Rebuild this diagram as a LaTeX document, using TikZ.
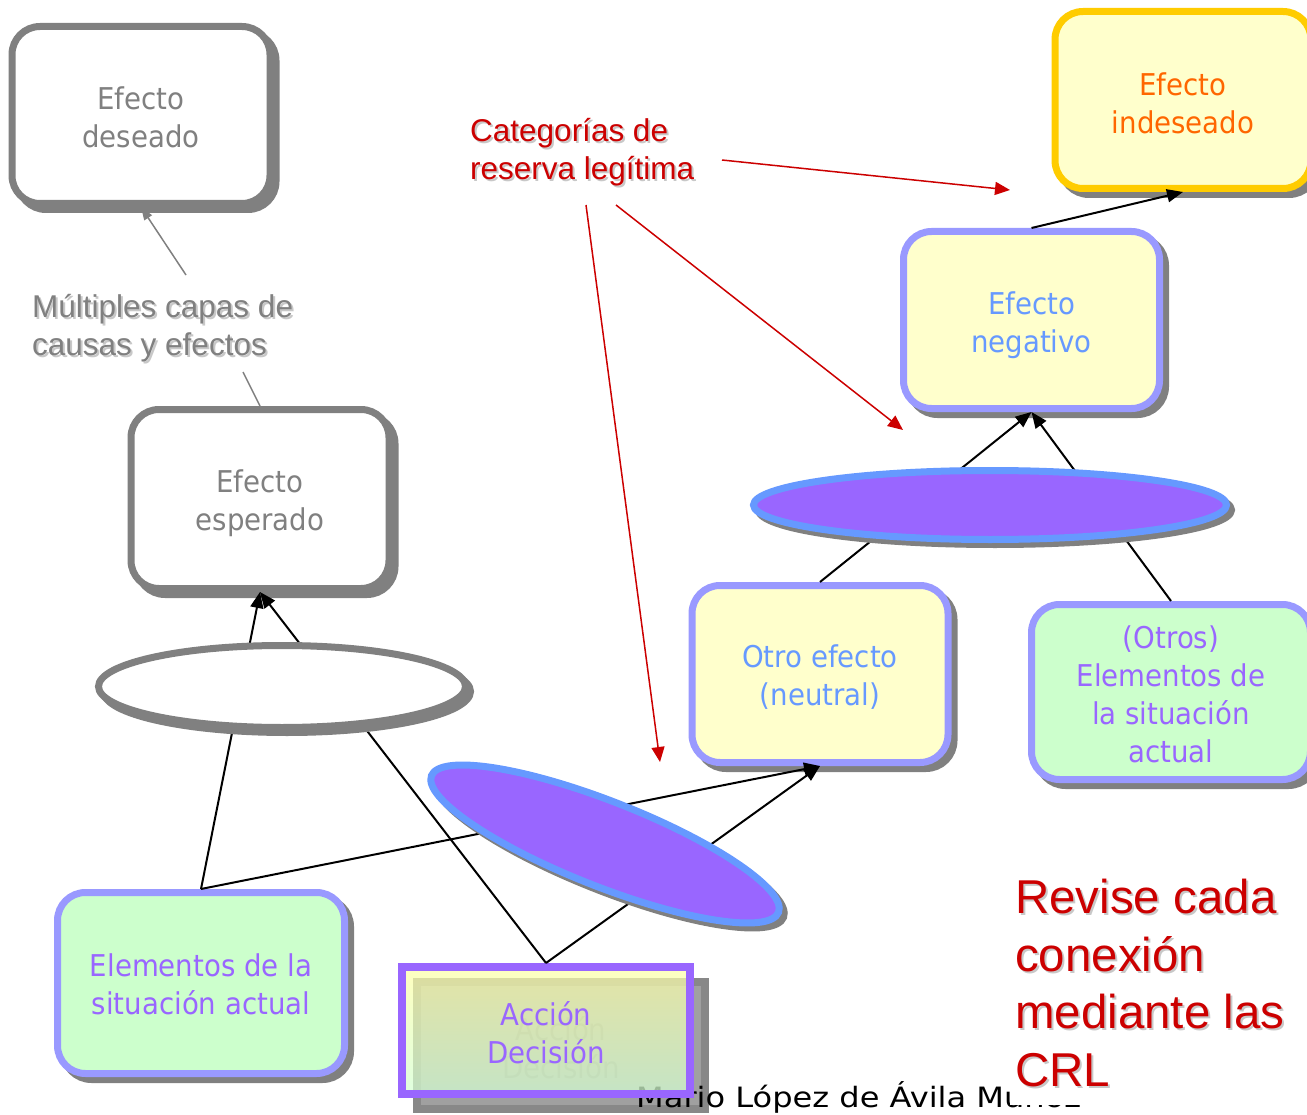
\documentclass[tikz,border=0pt]{standalone}
\usepackage{fontspec}
\setmainfont{DejaVu Sans}[FakeStretch=0.92]
\newfontfamily\footfont{DejaVu Sans}[FakeStretch=1.145]
\newfontfamily\arialfont{Liberation Sans}
\usetikzlibrary{arrows.meta,shapes.geometric}

\definecolor{shgray}{HTML}{808080}
\definecolor{txtgray}{HTML}{808080}
\definecolor{boxyellow}{HTML}{FFFFCC}
\definecolor{boxgreen}{HTML}{CCFFCC}
\definecolor{lilac}{HTML}{9999FF}
\definecolor{skyblue}{HTML}{6699FF}
\definecolor{violet}{HTML}{9966FF}
\definecolor{gold}{HTML}{FFCC00}
\definecolor{orangetxt}{HTML}{FF6600}
\definecolor{crlred}{HTML}{CC0000}
\definecolor{softshadow}{HTML}{C8C8C8}
\definecolor{accshfill}{HTML}{A0A0A0}
\definecolor{accshline}{HTML}{888888}
\definecolor{accshtext}{HTML}{8C8C8C}
\definecolor{acctop}{HTML}{FFFFA8}
\definecolor{accbottom}{HTML}{D4FFD4}

% text with a soft drop shadow
\newcommand\shtxt[2][softshadow]{\leavevmode\rlap{\kern2pt\raisebox{-2pt}{\color{#1}#2}}#2}
% invisible strut that sets the height of a first text line
\newcommand\topgap[1]{\rule{0pt}{#1}}

\tikzset{
  shadowed/.style={preaction={draw=shgray,fill=shgray,
      transform canvas={xshift=#1,yshift=-#1}}},
  shadowed/.default=6pt,
  box/.style={rectangle, rounded corners=28pt, line width=7pt,
    minimum width=256pt, minimum height=177pt, inner sep=0pt,
    align=center, font=\fontsize{30}{38}\selectfont, shadowed},
  graybox/.style={box, draw=shgray, fill=white, text=txtgray},
  yelbox/.style={box, draw=lilac, fill=boxyellow, text=skyblue},
  grnbox/.style={box, draw=lilac, fill=boxgreen, text=violet},
  actbox/.style={rectangle, line width=8pt, minimum width=288pt,
    minimum height=127pt, inner sep=0pt, align=center,
    font=\fontsize{30}{38}\selectfont},
  andnode/.style={ellipse, line width=7pt, inner sep=0pt},
  link/.style={draw=black, line width=2pt},
  linkarrow/.style={link, -{Triangle[length=16pt,width=13pt]}},
  redarrow/.style={draw=crlred, line width=1.5pt,
    -{Triangle[length=15pt,width=13pt]}},
  grayline/.style={draw=txtgray, line width=1.5pt},
  grayarrow/.style={grayline, -{Triangle[length=13pt,width=9pt]}},
}

\begin{document}
\begin{tikzpicture}[x=1pt,y=-1pt]
\useasboundingbox (0,0) rectangle (1307,1115);
\fill[white] (0,0) rectangle (1307,1115);

% effect boxes
\node[graybox, minimum width=258pt] (des) at (141,115) {\topgap{26.8pt}Efecto\\deseado};
\node[graybox, minimum width=258pt, minimum height=179pt] (esp) at (260,499)
  {\topgap{30.8pt}Efecto\\esperado};
\node[yelbox] (otro) at (820,674) {\topgap{28.8pt}Otro efecto\\(neutral)};
\node[yelbox] (neg) at (1031.5,320) {\topgap{32.8pt}Efecto\\negativo};
\node[box, draw=gold, fill=boxyellow, text=orangetxt] (ind) at (1183,100)
  {\topgap{28.8pt}Efecto\\indeseado};
\node[grnbox, minimum width=279pt, minimum height=175pt] (otros) at (1171,692)
  {\topgap{27.8pt}(Otros)\\Elementos de\\la situación\\actual};
\node[grnbox, minimum width=287pt, minimum height=181pt] (elem) at (201,983)
  {\topgap{24.8pt}Elementos de la\\situación actual};

% action box with its shadow and the author line
\node[actbox, draw=accshline, fill=accshfill, text=accshtext] (accsh) at (561,1045.5)
  {\topgap{28pt}Acción\\Decisión};
\node[anchor=base west, inner sep=0pt, font=\footfont\fontsize{28}{34}\selectfont]
  (foot) at (636,1107) {Mario López de Ávila Muñoz};
\node[actbox, draw=violet, top color=acctop, bottom color=accbottom,
  fill opacity=0.72, text opacity=1, text=violet] (acc) at (546,1030.5)
  {\topgap{28pt}Acción\\Decisión};

% captions
\node[anchor=west, inner sep=0pt, align=left, text=txtgray,
  font=\arialfont\fontsize{31.5}{38}\selectfont] (mult) at (32,329)
  {\shtxt{Múltiples capas de}\\\shtxt{causas y efectos}};
\node[anchor=west, inner sep=0pt, align=left, text=crlred,
  font=\arialfont\fontsize{31.5}{38}\selectfont] (crl) at (470,153)
  {\shtxt{Categorías de}\\\shtxt{reserva legítima}};
\node[anchor=west, fill=white, inner xsep=5pt, inner ysep=16pt, align=left, text=crlred,
  font=\arialfont\fontsize{47.5}{57.5}\selectfont] (rev) at (1010,984)
  {\shtxt{Revise cada}\\\shtxt{conexión}\\\shtxt{mediante las}\\\shtxt{CRL}};

% cause-effect links
\draw[linkarrow] (elem.north) -- (esp.south);
\draw[linkarrow] (acc.north) -- (esp.south);
\draw[linkarrow] (elem.north) -- (otro.south);
\draw[linkarrow] (acc.north) -- (otro.south);
\draw[linkarrow] (otro.north) -- (neg.south);
\draw[linkarrow] (otros.north) -- (neg.south);
\draw[linkarrow] (neg.north) -- (ind.south);

% layers of causes and effects
\coordinate (m1) at (186,275);
\coordinate (m2) at (243,372);
\draw[grayarrow] (m1) -- (des.south);
\draw[grayline] (m2) -- (esp.north);

% pointers from the legitimate reservation categories
\coordinate (cA) at (722,160);
\coordinate (tA) at (1010,190);
\coordinate (cB) at (616,205);
\coordinate (tB) at (903,430);
\coordinate (cC) at (586,205);
\coordinate (tC) at (660,762);
\draw[redarrow] (cA) -- (tA);
\draw[redarrow] (cB) -- (tB);
\draw[redarrow] (cC) -- (tC);

% sufficiency ellipses over the links
\node[andnode, draw=shgray, fill=white, shadowed=5pt,
  minimum width=367pt, minimum height=82pt] (andw) at (282,686.5) {};
\node[andnode, draw=skyblue, fill=violet, shadowed=5pt, rotate=-21.5,
  minimum width=373pt, minimum height=85pt] (andv) at (605,844) {};
\node[andnode, draw=skyblue, fill=violet, shadowed=5pt,
  minimum width=473pt, minimum height=69pt] (andh) at (990,505) {};
\end{tikzpicture}
\end{document}
